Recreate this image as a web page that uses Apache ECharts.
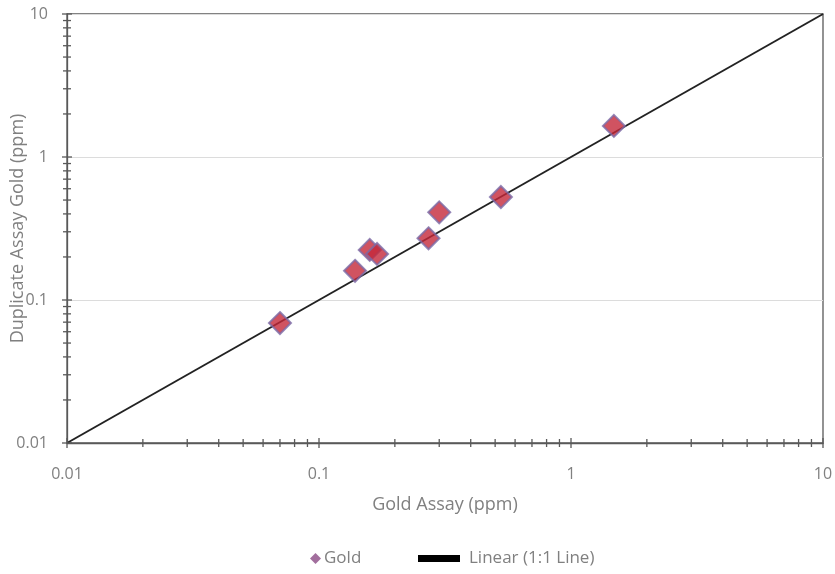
<!DOCTYPE html>
<html>
<head>
<meta charset="utf-8">
<script src="https://cdn.jsdelivr.net/npm/echarts@6/dist/echarts.min.js"></script>
<style>
  html, body { margin: 0; padding: 0; background: #fff; }
  #chart { width: 835px; height: 574px; }
</style>
</head>
<body>
<div id="chart"></div>
<script>
// gold assay vs duplicate assay (ppm)
const goldAssay = [0.07, 0.139, 0.159, 0.17, 0.272, 0.30, 0.527, 1.48];
const duplicateAssay = [0.069, 0.16, 0.224, 0.21, 0.27, 0.41, 0.525, 1.65];

// 1:1 reference line
const lineX = [0.01, 10];
const lineY = [0.01, 10];

// tick values for the log axes (major + minor)
const majorTicks = [0.01, 0.1, 1, 10];
const tickValues = [];
[0.01, 0.1, 1].forEach(d => {
  for (let k = 1; k < 10; k++) tickValues.push(+(d * k).toPrecision(3));
});
tickValues.push(10);

const textColor = '#808080';
const axisColor = '#595959';
const font = 'Open Sans';

const chart = echarts.init(document.getElementById('chart'));

function tickRender(isX) {
  return function (params, api) {
    const v = api.value(isX ? 0 : 1);
    const len = majorTicks.indexOf(v) >= 0 ? 5 : 4;
    let p, shape;
    if (isX) {
      p = api.coord([v, 0.01]);
      shape = { x1: p[0], y1: p[1] - len, x2: p[0], y2: p[1] + len };
    } else {
      p = api.coord([0.01, v]);
      shape = { x1: p[0] - len, y1: p[1], x2: p[0] + len, y2: p[1] };
    }
    return {
      type: 'line',
      shape: shape,
      style: { stroke: axisColor, lineWidth: 1.3 }
    };
  };
}

const option = {
  backgroundColor: '#fff',
  animation: false,
  textStyle: { fontFamily: font },
  grid: {
    left: 67, right: 12, top: 14, bottom: 131,
    containLabel: false, outerBoundsMode: 'none',
    show: true, borderColor: axisColor, borderWidth: 1.3
  },
  legend: [
    {
      data: [{ name: 'Gold', icon: 'diamond', itemStyle: { color: '#8b4a85', borderWidth: 0 } }],
      left: 305, top: 545, itemWidth: 11, itemHeight: 11, itemGap: 4,
      textStyle: { color: textColor, fontSize: 17, fontFamily: font, padding: [0, 0, 0, -2] }
    },
    {
      data: [{ name: 'Linear (1:1 Line)', icon: 'rect', itemStyle: { color: '#000' } }],
      left: 413, top: 545, itemWidth: 42, itemHeight: 7, itemGap: 10,
      textStyle: { color: textColor, fontSize: 17, fontFamily: font, padding: [0, 0, 0, 4] }
    }
  ],
  xAxis: {
    type: 'log', logBase: 10, min: 0.01, max: 10,
    name: 'Gold Assay (ppm)', nameLocation: 'middle', nameGap: 53,
    nameMoveOverlap: false,
    nameTextStyle: { color: textColor, fontSize: 18, fontFamily: font },
    axisLine: { show: true, lineStyle: { color: axisColor, width: 1.3 } },
    axisTick: { show: false },
    axisLabel: {
      color: textColor, fontSize: 16, margin: 23, fontFamily: font,
      formatter: v => String(+v.toPrecision(3))
    },
    splitLine: { show: false }
  },
  yAxis: {
    type: 'log', logBase: 10, min: 0.01, max: 10,
    name: 'Duplicate Assay Gold (ppm)', nameLocation: 'middle', nameGap: 40,
    nameMoveOverlap: false,
    nameTextStyle: { color: textColor, fontSize: 18, fontFamily: font },
    axisLine: { show: true, lineStyle: { color: axisColor, width: 1.3 } },
    axisTick: { show: false },
    axisLabel: {
      color: textColor, fontSize: 16, margin: 19, fontFamily: font,
      formatter: v => String(+v.toPrecision(3))
    },
    splitLine: { show: true, lineStyle: { color: '#dcdcdc', width: 1 } }
  },
  series: [
    {
      name: 'Linear (1:1 Line)',
      type: 'line',
      data: lineX.map((x, i) => [x, lineY[i]]),
      symbol: 'none',
      lineStyle: { color: '#222', width: 2 },
      itemStyle: { color: '#000' },
      z: 3
    },
    {
      name: 'Gold',
      type: 'scatter',
      data: goldAssay.map((x, i) => [x, duplicateAssay[i]]),
      symbol: 'diamond',
      symbolSize: 22,
      itemStyle: { color: '#c4283a', borderColor: '#7b6aa6', borderWidth: 2 },
      z: 4
    },
    {
      type: 'custom',
      data: tickValues.map(v => [v, 0.01]),
      renderItem: tickRender(true),
      clip: false,
      silent: true,
      z: 5
    },
    {
      type: 'custom',
      data: tickValues.map(v => [0.01, v]),
      renderItem: tickRender(false),
      clip: false,
      silent: true,
      z: 5
    }
  ]
};

chart.setOption(option);
</script>
</body>
</html>
